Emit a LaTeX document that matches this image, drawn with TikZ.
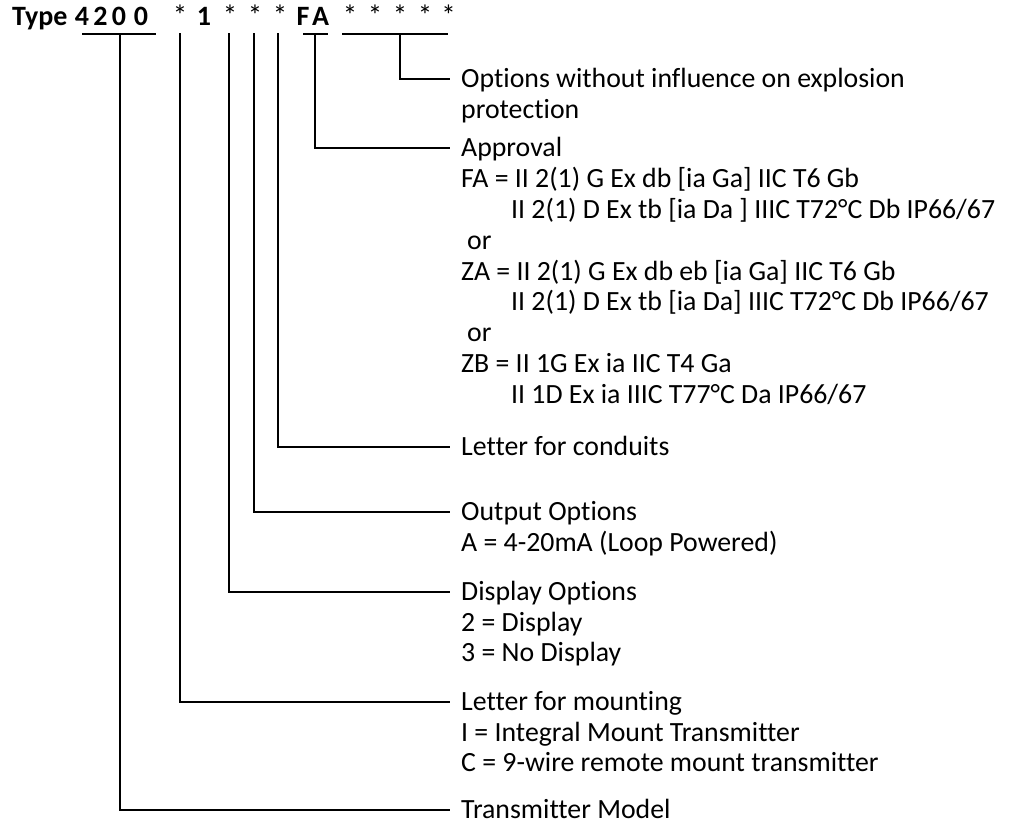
\documentclass[tikz,border=0pt]{standalone}
\usepackage{fontspec}
\setmainfont{Carlito}[Ligatures=NoCommon]
\newcommand\LblSize{\fontsize{27.8bp}{31bp}\selectfont}
\newcommand\HdSize{\fontsize{28bp}{31bp}\selectfont\bfseries}
\newcommand\StarSize{\fontsize{29bp}{31bp}\selectfont}
\newcommand\Gap{12bp}
\tikzset{
  lbl/.style={
    anchor = west,
    inner sep = 0pt,
    text height = 17.9bp,
    text depth = 0pt,
    font = \LblSize
  },
  hd/.style={
    anchor = base,
    inner sep = 0pt,
    font = \HdSize
  },
  star/.style={
    anchor = base,
    inner sep = 0pt,
    font = \StarSize
  },
  conn/.style={
    line width = 2.8bp,
    line cap = rect,
    shorten > = \Gap
  },
  uline/.style={
    line width = 2.8bp
  }
}

\begin{document}
\begin{tikzpicture}[x=1bp,y=-1bp]
  \useasboundingbox (0,0) rectangle (1010,824);

  % type code
  \node[hd, anchor=base west] (type) at (12,25) {Type};
  \foreach \x/\c [count=\i] in {82/4,100.5/2,119/0,141/0,204/1,303/F,320.5/A}
    \node[hd] (dg\i) at (\x,25) {\c};
  \foreach \x [count=\i] in {180,230,255,280,350,375,400,425,448.5}
    \node[star] (st\i) at (\x,25) {*};

  % underlines
  \coordinate (ulmodelA) at (82,34);
  \coordinate (ulmodelB) at (156,34);
  \coordinate (ulapprA) at (303,34);
  \coordinate (ulapprB) at (328,34);
  \coordinate (uloptA) at (342,34);
  \coordinate (uloptB) at (448,34);
  \draw[uline] (ulmodelA) -- (ulmodelB);
  \draw[uline] (ulapprA) -- (ulapprB);
  \draw[uline] (uloptA) -- (uloptB);

  % branch tops
  \coordinate (cmodel) at (120,34);
  \coordinate (cmount) at (180,34);
  \coordinate (cdisp) at (229,34);
  \coordinate (coutp) at (254,34);
  \coordinate (ccond) at (278,34);
  \coordinate (cappr) at (315,34);
  \coordinate (copt) at (400,34);

  % labels
  \node[lbl] (opt) at (461,79) {Options without influence on explosion};
  \node[lbl] (opt1) at (461,110) {protection};

  \node[lbl] (appr) at (461,148) {Approval};
  \node[lbl] (fa) at (461,179) {FA = II 2(1) G Ex db [ia Ga] IIC T6 Gb};
  \node[lbl] (fa1) at (511,210) {II 2(1) D Ex tb [ia Da ] IIIC T72°C Db IP66/67};
  \node[lbl] (or1) at (467,241) {or};
  \node[lbl] (za) at (461,272) {ZA = II 2(1) G Ex db eb [ia Ga] IIC T6 Gb};
  \node[lbl] (za1) at (511,302) {II 2(1) D Ex tb [ia Da] IIIC T72°C Db IP66/67};
  \node[lbl] (or2) at (467,333) {or};
  \node[lbl] (zb) at (461,364) {ZB = II 1G Ex ia IIC T4 Ga};
  \node[lbl] (zb1) at (511,395) {II 1D Ex ia IIIC T77°C Da IP66/67};

  \node[lbl] (cond) at (461,447) {Letter for conduits};

  \node[lbl] (outp) at (461,512) {Output Options};
  \node[lbl] (outp1) at (461,543) {A = 4-20mA (Loop Powered)};

  \node[lbl] (disp) at (461,592) {Display Options};
  \node[lbl] (disp1) at (461,623) {2 = Display};
  \node[lbl] (disp2) at (461,653) {3 = No Display};

  \node[lbl] (mount) at (461,702) {Letter for mounting};
  \node[lbl] (mount1) at (461,733) {I = Integral Mount Transmitter};
  \node[lbl] (mount2) at (461,763) {C = 9-wire remote mount transmitter};

  \node[lbl] (model) at (461,810) {Transmitter Model};

  % connectors
  \draw[conn] (copt) |- (opt.west);
  \draw[conn] (cappr) |- (appr.west);
  \draw[conn] (ccond) |- (cond.west);
  \draw[conn] (coutp) |- (outp.west);
  \draw[conn] (cdisp) |- (disp.west);
  \draw[conn] (cmount) |- (mount.west);
  \draw[conn] (cmodel) |- (model.west);
\end{tikzpicture}
\end{document}
